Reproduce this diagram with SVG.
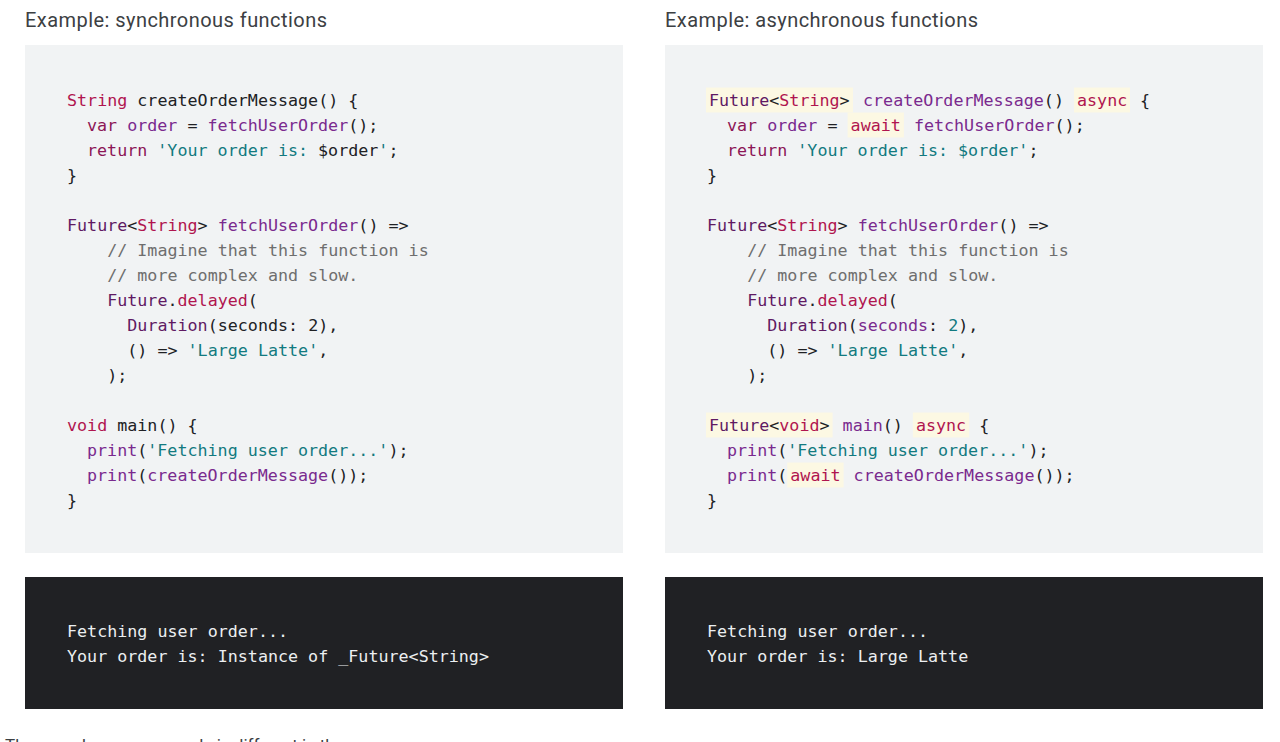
<svg xmlns="http://www.w3.org/2000/svg" width="1280" height="742" viewBox="0 0 1280 742">
<style>
.title{font-family:Roboto,"Liberation Sans",sans-serif;font-size:20px;fill:#3c4043}
.code{font-family:"DejaVu Sans Mono","Liberation Mono",monospace;font-size:16.7px;fill:#202124;white-space:pre}
.out{font-family:"DejaVu Sans Mono","Liberation Mono",monospace;font-size:16.7px;fill:#eceff1;white-space:pre}
.panel{fill:#f1f3f4}
.dark{fill:#202124}
.hl{fill:#fcf8e3}
.kw{fill:#b0154f}
.kw2{fill:#8c1656}
.ty{fill:#5f1a63}
.fn{fill:#7a2a8e}
.st{fill:#127a80}
.cm{fill:#6e6e6e}
.body{font-family:Roboto,"Liberation Sans",sans-serif;font-size:17px;fill:#3c4043}
</style>

<rect width="1280" height="742" fill="#ffffff"/>

<g id="left-title"><text class="title" x="25" y="27" textLength="302">Example: synchronous functions</text></g>
<g id="right-title"><text class="title" x="665" y="27" textLength="313">Example: asynchronous functions</text></g>

<g id="left-code">
<rect class="panel" x="25" y="45" width="598" height="508"/>
<text class="code" xml:space="preserve">
<tspan x="67" y="106"><tspan class="kw">String</tspan> createOrderMessage() {</tspan>
<tspan x="87" y="131"><tspan class="kw2">var</tspan> <tspan class="fn">order</tspan> = <tspan class="fn">fetchUserOrder</tspan>();</tspan>
<tspan x="87" y="156"><tspan class="kw2">return</tspan> <tspan class="st">'Your order is: </tspan>$order<tspan class="st">'</tspan>;</tspan>
<tspan x="67" y="181">}</tspan>
<tspan x="67" y="231"><tspan class="ty">Future</tspan>&lt;<tspan class="kw">String</tspan>&gt; <tspan class="fn">fetchUserOrder</tspan>() =&gt;</tspan>
<tspan x="107.2" y="256" class="cm">// Imagine that this function is</tspan>
<tspan x="107.2" y="281" class="cm">// more complex and slow.</tspan>
<tspan x="107.2" y="306"><tspan class="ty">Future</tspan>.<tspan class="kw">delayed</tspan>(</tspan>
<tspan x="127.3" y="331"><tspan class="ty">Duration</tspan>(seconds: 2),</tspan>
<tspan x="127.3" y="356">() =&gt; <tspan class="st">'Large Latte'</tspan>,</tspan>
<tspan x="107.2" y="381">);</tspan>
<tspan x="67" y="431"><tspan class="kw">void</tspan> main() {</tspan>
<tspan x="87" y="456"><tspan class="fn">print</tspan>(<tspan class="st">'Fetching user order...'</tspan>);</tspan>
<tspan x="87" y="481"><tspan class="fn">print</tspan>(<tspan class="fn">createOrderMessage</tspan>());</tspan>
<tspan x="67" y="506">}</tspan>
</text>
</g>

<g id="right-code">
<rect class="panel" x="665" y="45" width="598" height="508"/>
<rect class="hl" x="706" y="87.5" width="147" height="25"/>
<rect class="hl" x="1074" y="87.5" width="56" height="25"/>
<rect class="hl" x="847.6" y="112.5" width="56.3" height="25"/>
<rect class="hl" x="706" y="412.5" width="126.6" height="25"/>
<rect class="hl" x="912.9" y="412.5" width="56.3" height="25"/>
<rect class="hl" x="787.3" y="462.5" width="56.3" height="25"/>
<text class="code" xml:space="preserve">
<tspan x="709" y="106"><tspan class="ty">Future</tspan>&lt;<tspan class="kw">String</tspan>&gt;</tspan><tspan x="863" y="106" class="fn">createOrderMessage</tspan><tspan>()</tspan><tspan x="1077" y="106" class="kw">async</tspan><tspan x="1140" y="106">{</tspan>
<tspan x="727" y="131"><tspan class="kw2">var</tspan> <tspan class="fn">order</tspan> =</tspan><tspan x="850.6" y="131" class="kw">await</tspan><tspan x="913.9" y="131"><tspan class="fn">fetchUserOrder</tspan>();</tspan>
<tspan x="727" y="156"><tspan class="kw2">return</tspan> <tspan class="st">'Your order is: $order'</tspan>;</tspan>
<tspan x="707" y="181">}</tspan>
<tspan x="707" y="231"><tspan class="ty">Future</tspan>&lt;<tspan class="kw">String</tspan>&gt; <tspan class="fn">fetchUserOrder</tspan>() =&gt;</tspan>
<tspan x="747.2" y="256" class="cm">// Imagine that this function is</tspan>
<tspan x="747.2" y="281" class="cm">// more complex and slow.</tspan>
<tspan x="747.2" y="306"><tspan class="ty">Future</tspan>.<tspan class="kw">delayed</tspan>(</tspan>
<tspan x="767.3" y="331"><tspan class="ty">Duration</tspan>(<tspan class="fn">seconds</tspan>: <tspan class="st">2</tspan>),</tspan>
<tspan x="767.3" y="356">() =&gt; <tspan class="st">'Large Latte'</tspan>,</tspan>
<tspan x="747.2" y="381">);</tspan>
<tspan x="709" y="431"><tspan class="ty">Future</tspan>&lt;<tspan class="kw">void</tspan>&gt;</tspan><tspan x="842.6" y="431"><tspan class="fn">main</tspan>()</tspan><tspan x="915.9" y="431" class="kw">async</tspan><tspan x="979.2" y="431">{</tspan>
<tspan x="727" y="456"><tspan class="fn">print</tspan>(<tspan class="st">'Fetching user order...'</tspan>);</tspan>
<tspan x="727" y="481"><tspan class="fn">print</tspan>(</tspan><tspan x="790.3" y="481" class="kw">await</tspan><tspan x="853.6" y="481"><tspan class="fn">createOrderMessage</tspan>());</tspan>
<tspan x="707" y="506">}</tspan>
</text>
</g>

<g id="left-output">
<rect class="dark" x="25" y="577" width="598" height="132"/>
<text class="out" xml:space="preserve"><tspan x="67" y="637">Fetching user order...</tspan><tspan x="67" y="662">Your order is: Instance of _Future&lt;String&gt;</tspan></text>
</g>

<g id="right-output">
<rect class="dark" x="665" y="577" width="598" height="132"/>
<text class="out" xml:space="preserve"><tspan x="707" y="637">Fetching user order...</tspan><tspan x="707" y="662">Your order is: Large Latte</tspan></text>
</g>

<g id="footer-text"><text class="body" x="5" y="751">The asynchronous example is different in three ways:</text></g>
</svg>
